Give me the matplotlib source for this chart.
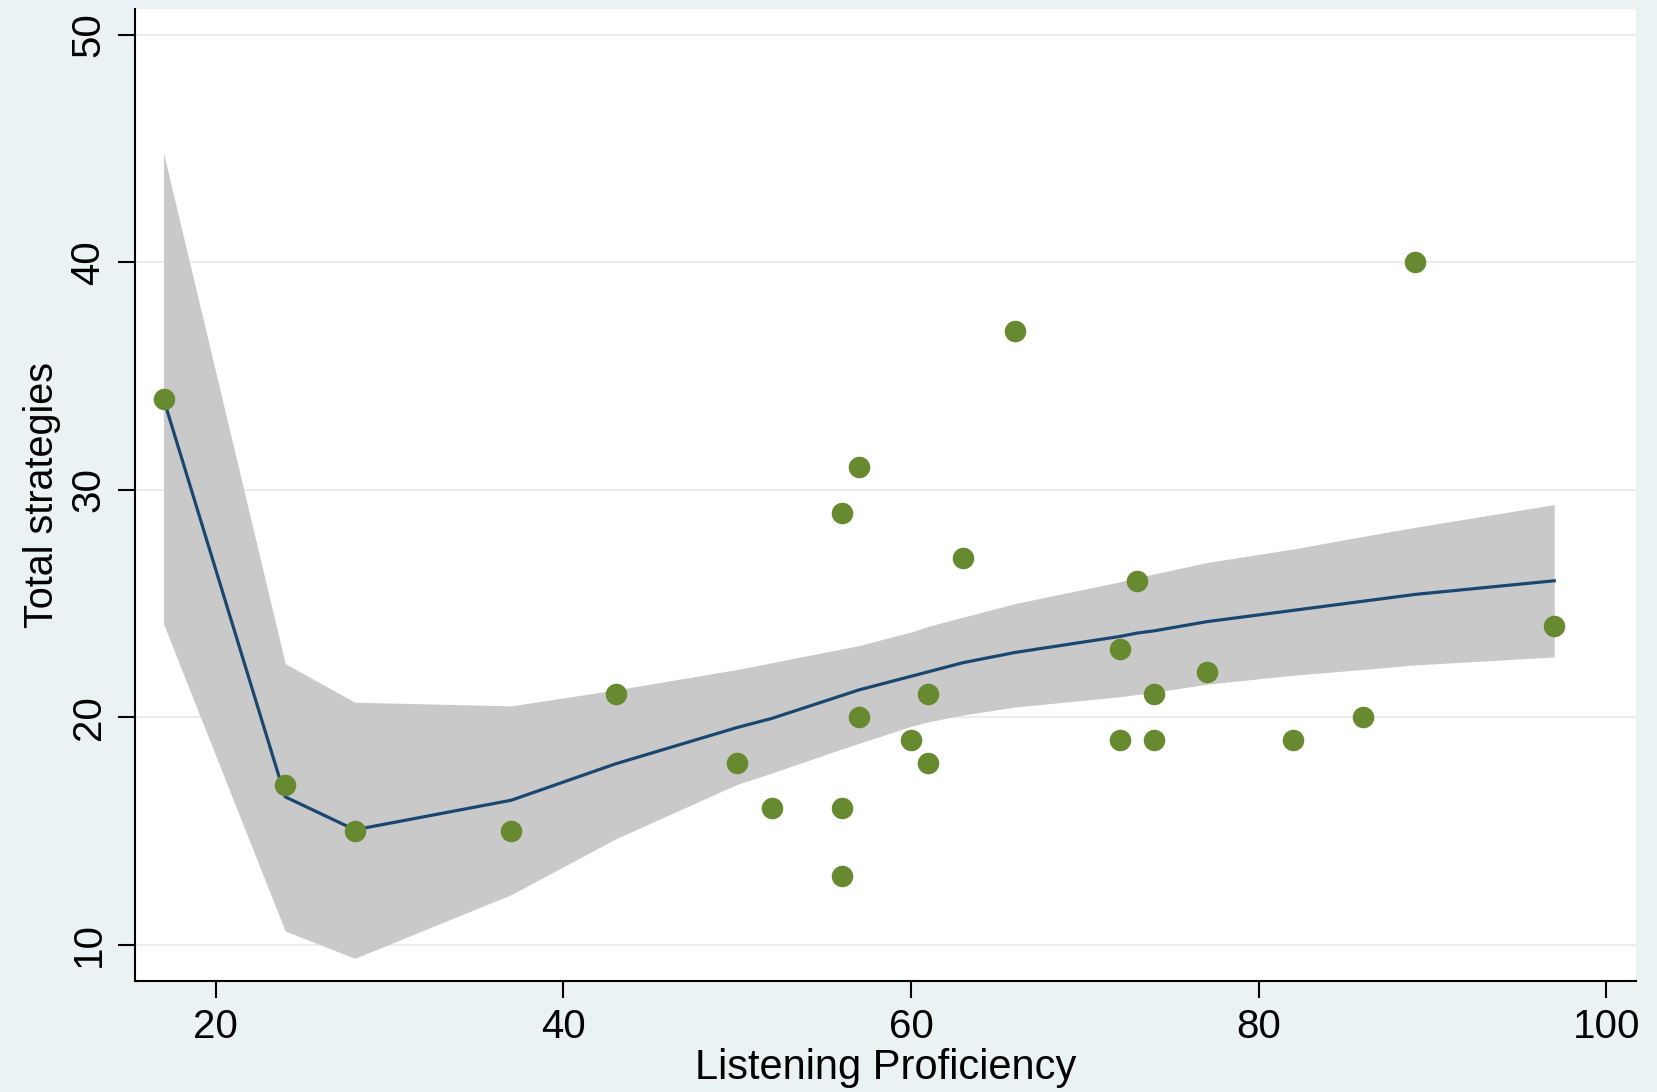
import matplotlib
matplotlib.use("Agg")
import matplotlib.pyplot as plt

plt.rcParams['font.family'] = ['Liberation Sans', 'DejaVu Sans']

# observed scores
listening = [17, 24, 28, 37, 43, 50, 52, 56, 56, 56, 57, 57, 60, 61, 61, 63, 66,
             72, 72, 73, 74, 74, 77, 82, 86, 89, 97]
strategies = [34, 17, 15, 15, 21, 18, 16, 29, 16, 13, 31, 20, 19, 21, 18, 27, 37,
              23, 19, 26, 21, 19, 22, 19, 20, 40, 24]

# fitted curve with 95% CI, at each distinct listening score
fit_x = [17, 24, 28, 37, 43, 50, 52, 56, 57, 60, 61, 63, 66, 72, 73, 74, 77, 82, 86, 89, 97]
fit_y = [34.0, 16.5, 15.05, 16.35, 17.95, 19.55, 19.95, 20.95, 21.2, 21.8, 22.0,
         22.4, 22.85, 23.55, 23.7, 23.8, 24.2, 24.7, 25.1, 25.4, 26.0]
ci_hi = [44.8, 22.36, 20.66, 20.5, 21.2, 22.1, 22.4, 23.0, 23.15, 23.75, 24.0,
         24.4, 25.0, 25.95, 26.15, 26.3, 26.8, 27.4, 27.95, 28.35, 29.35]
ci_lo = [24.1, 10.6, 9.4, 12.2, 14.65, 17.05, 17.55, 18.6, 18.85, 19.6, 19.8,
         20.1, 20.45, 20.9, 21.0, 21.1, 21.45, 21.85, 22.1, 22.3, 22.65]

x_ticks = [20, 40, 60, 80, 100]
y_ticks = [10, 20, 30, 40, 50]

BG = '#eaf2f4'

fig = plt.figure(figsize=(16.57, 10.92), dpi=100, facecolor=BG)
ax = fig.add_axes([0.0817, 0.102, 0.9056, 0.8902])
ax.set_facecolor('white')

for yv in y_ticks:
    ax.axhline(yv, color='#ececec', lw=1.5, zorder=0)

ax.fill_between(fit_x, ci_lo, ci_hi, color='#c9c9c9', lw=0, zorder=1)
ax.plot(fit_x, fit_y, color='#1a476f', lw=2.3, zorder=2)
ax.plot(listening, strategies, 'o', color='#67892f', markersize=15.5,
        markeredgewidth=0, zorder=3)

ax.set_xlim(15.38, 101.7)
ax.set_ylim(8.42, 51.16)
ax.set_xticks(x_ticks)
ax.set_yticks(y_ticks)

for side in ['top', 'right']:
    ax.spines[side].set_visible(False)
for side in ['left', 'bottom']:
    ax.spines[side].set_linewidth(1.5)
    ax.spines[side].set_color('black')

ax.tick_params(axis='both', direction='out', length=12, width=1.5,
               labelsize=29, pad=8, colors='black')
for lab in ax.get_yticklabels():
    lab.set_rotation(90)
    lab.set_va('center')

ax.set_xlabel('Listening Proficiency', fontsize=30, labelpad=1)
ax.set_ylabel('Total strategies', fontsize=28.5, labelpad=6)

fig.savefig('out.png', dpi=100, facecolor=BG)
